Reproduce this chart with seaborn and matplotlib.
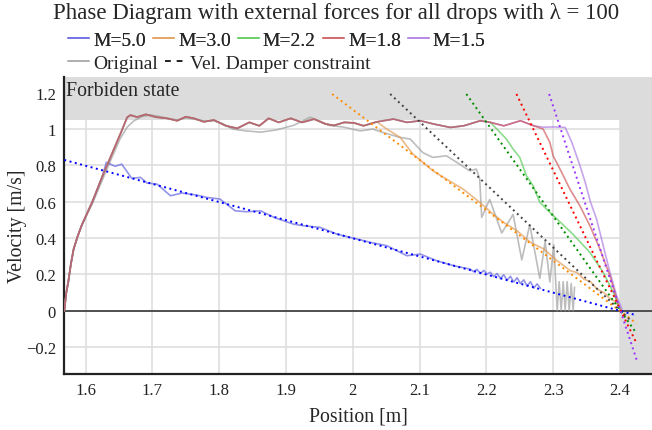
import matplotlib
matplotlib.use("Agg")
import matplotlib.pyplot as plt
from matplotlib.lines import Line2D
import seaborn as sns

# shared acceleration phase (all drops)
rise_x = [1.568, 1.571, 1.574, 1.578, 1.582, 1.588, 1.594, 1.61, 1.625, 1.64, 1.655, 1.662]
rise_v = [0.0, 0.10, 0.16, 0.26, 0.34, 0.41, 0.47, 0.60, 0.74, 0.87, 1.0, 1.064]

# shared plateau (velocity limited near 1.05)
plat_x = [1.667, 1.677, 1.69, 1.705, 1.722, 1.737, 1.75, 1.762, 1.777, 1.792, 1.81, 1.827,
          1.845, 1.86, 1.874, 1.889, 1.907, 1.924, 1.942, 1.959, 1.972, 1.987, 2.002, 2.016,
          2.036, 2.061, 2.081, 2.101, 2.121, 2.146, 2.166, 2.191, 2.206, 2.226, 2.251, 2.271]
plat_v = [1.077, 1.066, 1.081, 1.066, 1.059, 1.046, 1.068, 1.059, 1.04, 1.05, 1.018, 1.004,
          1.037, 1.018, 1.059, 1.037, 1.059, 1.037, 1.055, 1.028, 1.02, 1.037, 1.034, 1.018,
          1.04, 1.055, 1.037, 1.046, 1.028, 1.009, 1.018, 1.046, 1.037, 1.018, 1.046, 1.018]

# M=5.0 (leaves early)
m50_x = [1.631, 1.644, 1.654, 1.669, 1.682, 1.692, 1.707, 1.727, 1.744, 1.766, 1.781, 1.801,
         1.824, 1.841, 1.862, 1.882, 1.911, 1.926, 1.951, 1.976, 1.996, 2.027, 2.051, 2.081,
         2.101, 2.126, 2.151, 2.176, 2.181, 2.186, 2.191, 2.196, 2.201, 2.206, 2.211, 2.216,
         2.221, 2.226, 2.231, 2.236, 2.241, 2.246, 2.251, 2.256, 2.261, 2.266, 2.271, 2.276, 2.281]
m50_v = [0.817, 0.795, 0.807, 0.729, 0.734, 0.703, 0.697, 0.633, 0.648, 0.637, 0.624, 0.615,
         0.55, 0.545, 0.55, 0.514, 0.477, 0.468, 0.459, 0.422, 0.404, 0.376, 0.358, 0.303,
         0.312, 0.275, 0.248, 0.229, 0.215, 0.228, 0.205, 0.222, 0.202, 0.212, 0.188, 0.205,
         0.178, 0.198, 0.168, 0.19, 0.158, 0.182, 0.15, 0.17, 0.136, 0.16, 0.125, 0.148, 0.123]

m30_x = [2.051, 2.071, 2.09, 2.105, 2.12, 2.14, 2.165, 2.19, 2.21, 2.226, 2.246, 2.266,
         2.286, 2.306, 2.326, 2.336, 2.346, 2.356, 2.366, 2.376, 2.386, 2.393, 2.401]
m30_v = [1.0, 0.954, 0.862, 0.817, 0.77, 0.725, 0.67, 0.597, 0.532, 0.486, 0.44, 0.376,
         0.34, 0.275, 0.22, 0.21, 0.174, 0.16, 0.119, 0.1, 0.064, 0.05, 0.009]

m22_x = [2.23, 2.24, 2.25, 2.26, 2.27, 2.28, 2.29, 2.31, 2.33, 2.355, 2.375, 2.39, 2.40]
m22_v = [0.945, 0.89, 0.844, 0.743, 0.688, 0.597, 0.56, 0.49, 0.42, 0.321, 0.211, 0.101, 0.009]

m18_x = [2.285, 2.295, 2.30, 2.313, 2.325, 2.34, 2.355, 2.37, 2.385, 2.398]
m18_v = [1.0, 0.927, 0.853, 0.76, 0.67, 0.578, 0.468, 0.34, 0.193, 0.028]

m15_x = [2.286, 2.30, 2.318, 2.328, 2.34, 2.348, 2.356, 2.365, 2.375, 2.385, 2.395, 2.403]
m15_v = [1.01, 1.012, 1.009, 0.927, 0.80, 0.707, 0.597, 0.505, 0.358, 0.211, 0.083, 0.009]

orig_x = [1.568, 1.571, 1.574, 1.578, 1.582, 1.588, 1.594, 1.61, 1.625, 1.64, 1.652, 1.662,
          1.672, 1.685, 1.697, 1.71, 1.722, 1.737, 1.75, 1.762, 1.777, 1.792, 1.805, 1.82,
          1.84, 1.862, 1.885, 1.911, 1.925, 1.936, 1.95, 1.965, 1.986, 2.011, 2.03, 2.046,
          2.071, 2.086, 2.105, 2.12, 2.14, 2.16, 2.175, 2.185, 2.19, 2.193, 2.205, 2.223,
          2.24, 2.253, 2.265, 2.28, 2.288, 2.295, 2.301, 2.306, 2.309, 2.312, 2.315, 2.318,
          2.321, 2.324, 2.327, 2.330, 2.332]
orig_v = [0.0, 0.10, 0.16, 0.26, 0.34, 0.41, 0.47, 0.59, 0.72, 0.85, 0.95, 1.01,
          1.045, 1.07, 1.078, 1.07, 1.06, 1.05, 1.062, 1.055, 1.045, 1.045, 1.03, 1.0,
          0.99, 0.983, 0.995, 1.02, 1.045, 1.065, 1.045, 1.02, 1.011, 0.99, 1.0, 0.98,
          0.954, 0.945, 0.87, 0.844, 0.853, 0.807, 0.77, 0.78, 0.725, 0.514, 0.613, 0.428,
          0.53, 0.28, 0.474, 0.178, 0.382, 0.159, 0.363, 0.0, 0.16, 0.0, 0.16, 0.0,
          0.16, 0.0, 0.15, 0.0, 0.13]

# damper constraint lines: start/end (x, v)
damp_x = {"M=5.0": [1.568, 2.425], "M=3.0": [1.969, 2.425], "Original": [2.056, 2.418],
          "M=2.2": [2.17, 2.424], "M=1.8": [2.245, 2.425], "M=1.5": [2.294, 2.425]}
damp_v = {"M=5.0": [0.83, -0.025], "M=3.0": [1.193, -0.07], "Original": [1.193, -0.06],
          "M=2.2": [1.193, -0.12], "M=1.8": [1.193, -0.18], "M=1.5": [1.193, -0.27]}

x_ticks = [1.6, 1.7, 1.8, 1.9, 2.0, 2.1, 2.2, 2.3, 2.4]
x_labels = ["1.6", "1.7", "1.8", "1.9", "2", "2.1", "2.2", "2.3", "2.4"]
y_ticks = [-0.2, 0, 0.2, 0.4, 0.6, 0.8, 1.0, 1.2]
y_labels = ["\u22120.2", "0", "0.2", "0.4", "0.6", "0.8", "1", "1.2"]

v_limit = 1.05
x_wall = 2.4


def with_plateau(tail_x, tail_v, upto):
    xs = list(rise_x) + [x for x in plat_x if x <= upto]
    vs = list(rise_v) + [v for x, v in zip(plat_x, plat_v) if x <= upto]
    return xs + list(tail_x), vs + list(tail_v)


series = {
    "M=5.0": (list(rise_x[:9]) + m50_x, list(rise_v[:9]) + m50_v),
    "M=3.0": with_plateau(m30_x, m30_v, 2.036),
    "M=2.2": with_plateau(m22_x, m22_v, 2.206),
    "M=1.8": with_plateau(m18_x, m18_v, 2.271),
    "M=1.5": with_plateau(m15_x, m15_v, 2.271),
    "Original": (orig_x, orig_v),
}
solid_col = {"M=5.0": "#5a5ae0", "M=3.0": "#e0954a", "M=2.2": "#4fc94f",
             "M=1.8": "#cc5050", "M=1.5": "#a874e0", "Original": "#9a9a9a"}
dot_col = {"M=5.0": "#0000ff", "M=3.0": "#ff8c00", "Original": "#444444",
           "M=2.2": "#008c00", "M=1.8": "#ff0000", "M=1.5": "#9933ff"}

sns.set_theme(style="whitegrid")
plt.rcParams["font.family"] = ["Liberation Serif", "DejaVu Serif"]
plt.rcParams["axes.unicode_minus"] = True

fig = plt.figure(figsize=(6.52, 4.31), dpi=100)
ax = fig.add_axes([64.3 / 652, 56 / 431, (652 - 64.3) / 652, (375 - 78.3) / 431])

# forbidden regions
ax.axhspan(v_limit, 2, xmin=0, xmax=(x_wall - 1.568) / (2.448 - 1.568), color="#dcdcdc", lw=0, zorder=0)
ax.axvspan(x_wall, 3, color="#dcdcdc", lw=0, zorder=0)
ax.axhline(0, color="#444444", lw=1.3, zorder=1)

for name in ["Original", "M=5.0", "M=3.0", "M=2.2", "M=1.5", "M=1.8"]:
    xs, vs = series[name]
    sns.lineplot(x=xs, y=vs, ax=ax, color=solid_col[name], lw=1.2, alpha=0.65,
                 sort=False, estimator=None, zorder=3)
for name in ["M=5.0", "M=3.0", "Original", "M=2.2", "M=1.8", "M=1.5"]:
    sns.lineplot(x=damp_x[name], y=damp_v[name], ax=ax, color=dot_col[name], lw=1.4,
                 linestyle=(0, (1, 1.8)), sort=False, estimator=None, zorder=4)

ax.set_xlim(1.568, 2.448)
ax.set_ylim(-0.348, 1.285)
ax.set_xticks(x_ticks)
ax.set_xticklabels(x_labels)
ax.set_yticks(y_ticks)
ax.set_yticklabels(y_labels)
ax.tick_params(length=0, labelsize=12, pad=6, colors="#222222")
ax.grid(True, color="#dddddd", lw=1.1)
ax.set_axisbelow(True)
for s in ["top", "right"]:
    ax.spines[s].set_visible(False)
for s in ["left", "bottom"]:
    ax.spines[s].set_color("#222222")
    ax.spines[s].set_linewidth(1.6)
ax.set_xlabel("Position [m]", fontsize=14.3, labelpad=6)
ax.set_ylabel("Velocity [m/s]", fontsize=14.3)
ax.yaxis.set_label_coords((27 - 64.3) / 587.7, 0.5)
ax.text(1.5705, 1.265, "Forbiden state", fontsize=14.3, va="top", ha="left")

fig.text(336 / 652, 1 - 13 / 431, "Phase Diagram with external forces for all drops with \u03bb = 100",
         ha="center", va="center", fontsize=16.5)

h1 = [Line2D([], [], color=solid_col[n], lw=1.4, alpha=0.6) for n in ["M=5.0", "M=3.0", "M=2.2", "M=1.8", "M=1.5"]]
leg1 = fig.legend(h1, ["M=5.0", "M=3.0", "M=2.2", "M=1.8", "M=1.5"], loc="center left",
                  bbox_to_anchor=(68 / 652, 1 - 41 / 431), ncol=5, frameon=False, fontsize=14,
                  handlelength=1.1, handletextpad=0.2, columnspacing=0.35, borderpad=0, borderaxespad=0)
h2 = [Line2D([], [], color="#9a9a9a", lw=1.4, alpha=0.8),
      Line2D([], [], color="#222222", lw=1.4, linestyle=(0, (3, 3)))]
leg2 = fig.legend(h2, ["Original", "Vel. Damper constraint"], loc="center left",
                  bbox_to_anchor=(68 / 652, 1 - 64 / 431), ncol=2, frameon=False, fontsize=14,
                  handlelength=1.1, handletextpad=0.2, columnspacing=0.35, borderpad=0, borderaxespad=0)
fig.add_artist(leg1)

fig.savefig("out.png", dpi=100)
